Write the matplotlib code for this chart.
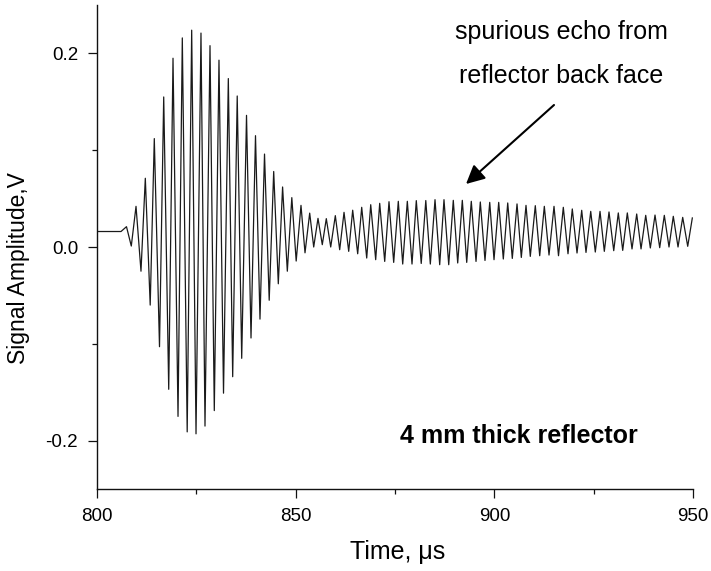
import matplotlib
matplotlib.use("Agg")
import matplotlib.pyplot as plt
from matplotlib.ticker import MultipleLocator

plt.rcParams['font.family'] = ['Liberation Sans', 'DejaVu Sans']

time_us = [800.00, 806.04, 807.42, 808.63, 809.82, 811.07, 812.16, 813.39, 814.42, 815.73,
           816.79, 818.05, 819.13, 820.39, 821.47, 822.70, 823.83, 824.92, 826.17, 827.18,
           828.44, 829.52, 830.70, 831.84, 833.05, 834.15, 835.29, 836.42, 837.63, 838.76,
           839.89, 841.02, 842.16, 843.34, 844.47, 845.63, 846.71, 847.90, 849.03, 850.13,
           851.34, 852.35, 853.53, 854.54, 855.62, 856.70, 857.71, 858.82, 859.98, 861.08,
           862.17, 863.35, 864.35, 865.61, 866.62, 867.88, 868.89, 870.14, 871.15, 872.41,
           873.49, 874.67, 875.83, 876.94, 878.10, 879.28, 880.36, 881.60, 882.75, 883.89,
           885.07, 886.25, 887.33, 888.52, 889.67, 890.78, 891.94, 893.05, 894.20, 895.39,
           896.47, 897.65, 898.84, 899.92, 901.10, 902.26, 903.37, 904.52, 905.71, 906.79,
           907.97, 909.05, 910.31, 911.42, 912.58, 913.76, 915.02, 916.15, 917.36, 918.54,
           919.62, 920.81, 921.99, 923.07, 924.26, 925.41, 926.60, 927.68, 928.86, 930.05,
           931.20, 932.31, 933.47, 934.65, 935.83, 936.92, 938.10, 939.26, 940.44, 941.62,
           942.78, 943.96, 945.04, 946.23, 947.41, 948.67, 949.83]

amplitude_v = [0.016, 0.016, 0.021, 0.001, 0.042, -0.025, 0.071, -0.060, 0.112, -0.103,
               0.155, -0.147, 0.195, -0.175, 0.216, -0.191, 0.224, -0.193, 0.221, -0.185,
               0.208, -0.169, 0.193, -0.151, 0.174, -0.134, 0.156, -0.115, 0.136, -0.094,
               0.115, -0.0745, 0.096, -0.055, 0.078, -0.038, 0.062, -0.025, 0.051, -0.0145,
               0.043, -0.006, 0.035, 0.000, 0.0296, 0.0024, 0.0293, 0.000, 0.0324, -0.0028,
               0.0358, -0.0045, 0.038, -0.007, 0.041, -0.0114, 0.0437, -0.0131, 0.0451, -0.0149,
               0.0468, -0.0159, 0.0472, -0.0176, 0.0472, -0.0176, 0.0479, -0.0170, 0.048, -0.0176,
               0.0489, -0.0183, 0.0489, -0.0183, 0.0482, -0.0165, 0.0482, -0.0159, 0.0472, -0.0149,
               0.0465, -0.0139, 0.0461, -0.0131, 0.0461, -0.0124, 0.0455, -0.0118, 0.0445, -0.0108,
               0.043, -0.0097, 0.0427, -0.009, 0.042, -0.0083, 0.042, -0.009, 0.041, -0.007,
               0.0393, -0.0062, 0.0379, -0.0056, 0.0368, -0.0052, 0.0368, -0.0045, 0.0362, -0.0038,
               0.0352, -0.0035, 0.0352, -0.002, 0.0341, -0.002, 0.0327, -0.001, 0.033, -0.0007,
               0.0327, 0.000, 0.0317, 0.000, 0.0306, 0.0007, 0.030]

x_ticks = [800, 850, 900, 950]
y_ticks = [-0.2, 0.0, 0.2]
y_tick_labels = ["-0.2", "0.0", "0.2"]

W, H = 711, 571
fig = plt.figure(figsize=(W / 100, H / 100), dpi=100)
ax = fig.add_axes([97 / W, 1 - 489 / H, (693 - 97) / W, (489 - 5) / H])

ax.plot(time_us, amplitude_v, color='#1a1a1a', lw=0.9)

ax.set_xlim(800, 950)
ax.set_ylim(-0.25, 0.25)
ax.set_xticks(x_ticks)
ax.set_yticks(y_ticks)
ax.set_yticklabels(y_tick_labels)
ax.xaxis.set_minor_locator(MultipleLocator(25))
ax.yaxis.set_minor_locator(MultipleLocator(0.1))

for s in ['top', 'right']:
    ax.spines[s].set_visible(False)
for s in ['left', 'bottom']:
    ax.spines[s].set_linewidth(1.0)
    ax.spines[s].set_color('#111111')

ax.tick_params(which='major', direction='out', length=6.5, width=0.9, labelsize=13.5,
               pad=7, color='#111111')
ax.tick_params(which='minor', direction='out', length=3.5, width=0.9, color='#111111')

fp = 'figure pixels'
ax.annotate("Signal Amplitude,V", xy=(18.5, H - 268), xycoords=fp, rotation=90,
            ha='center', va='center', fontsize=16.5)
ax.annotate("Time, \u03bcs", xy=(398, H - 559), xycoords=fp,
            ha='center', va='baseline', fontsize=18)
ax.annotate("spurious echo from", xy=(561, H - 39), xycoords=fp,
            ha='center', va='baseline', fontsize=18)
ax.annotate("reflector back face", xy=(561, H - 83), xycoords=fp,
            ha='center', va='baseline', fontsize=18)
ax.annotate("4 mm thick reflector", xy=(519, H - 443), xycoords=fp,
            ha='center', va='baseline', fontsize=18, fontweight='bold')
ax.annotate("", xy=(466, H - 184), xytext=(554, H - 105), xycoords=fp, textcoords=fp,
            arrowprops=dict(arrowstyle='-|>', mutation_scale=28, lw=1.5, color='k',
                            shrinkA=0, shrinkB=0))

fig.savefig("out.png", dpi=100)
